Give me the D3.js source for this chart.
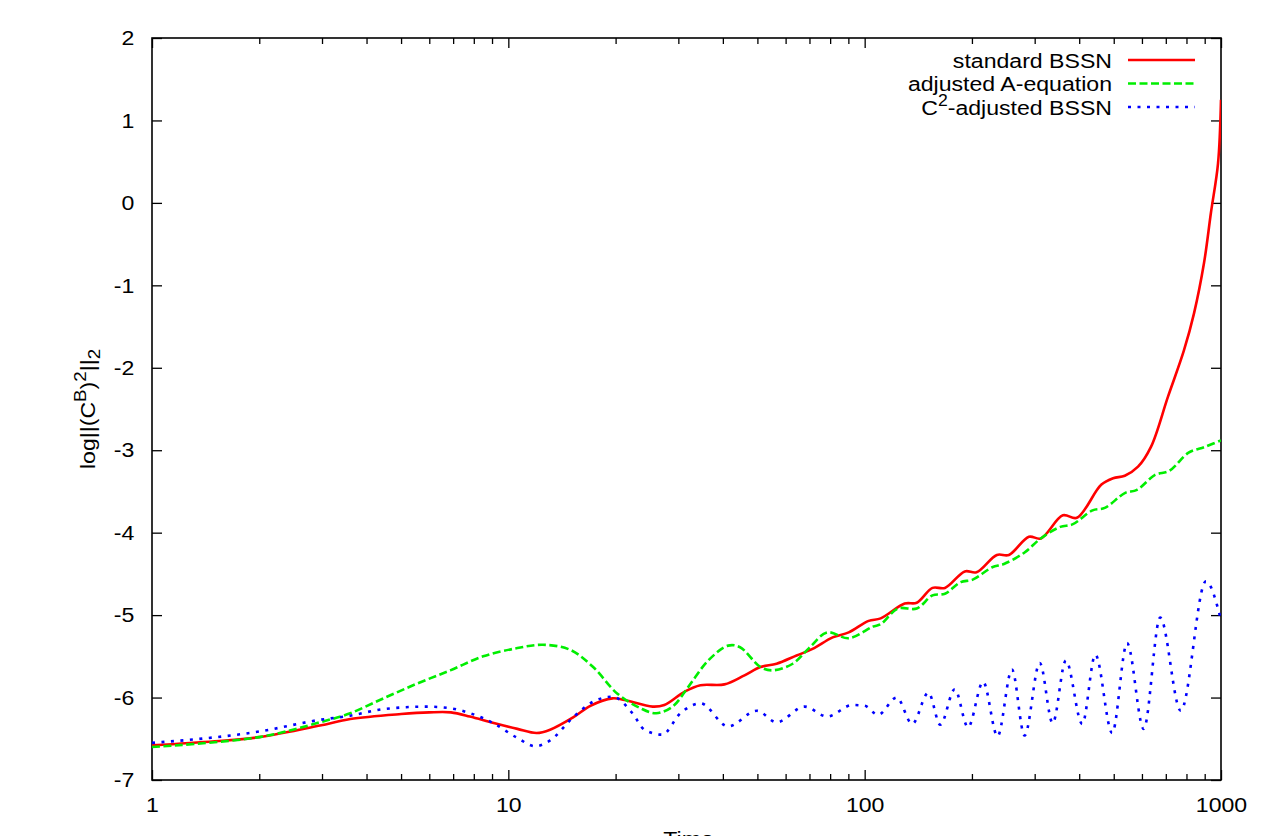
<!DOCTYPE html>
<html>
<head>
<meta charset="utf-8">
<script src="https://cdn.jsdelivr.net/npm/d3@7"></script>
<style>
  body { margin: 0; background: #fff; }
  text { font-family: "Liberation Sans", Arial, sans-serif; font-size: 21px; fill: #000; }
</style>
</head>
<body>
<svg id="chart" width="1282" height="836"></svg>
<script>
// values (time, log norm)
const redTime = [1, 1.5, 2.0, 2.96, 3.6, 5.0, 6.0, 6.9, 7.8, 9.1, 10.6, 12.0, 13.1, 15.2, 17.0, 19.6, 21.2, 25.4, 27.4, 31.2, 34.6, 40.4, 46.0, 51.0, 56.6, 64.4, 71.4, 81.3, 90.2, 102.6, 110.9, 129.5, 140, 155, 168, 191, 206, 235, 254, 289, 312, 360, 394, 461, 498, 537, 585, 636, 710, 787, 840, 896, 937, 981, 1000];
const redValue = [-6.58, -6.53, -6.48, -6.34, -6.26, -6.20, -6.18, -6.18, -6.23, -6.31, -6.38, -6.43, -6.39, -6.24, -6.10, -6.01, -6.03, -6.11, -6.09, -5.93, -5.85, -5.84, -5.73, -5.63, -5.59, -5.49, -5.41, -5.27, -5.21, -5.07, -5.04, -4.86, -4.85, -4.67, -4.67, -4.47, -4.48, -4.27, -4.27, -4.05, -4.07, -3.79, -3.82, -3.42, -3.34, -3.31, -3.20, -2.96, -2.35, -1.79, -1.34, -0.73, -0.12, 0.48, 1.25];

const greenTime = [1, 2.0, 2.96, 3.6, 4.46, 5.55, 6.87, 8.5, 10.6, 12.5, 14.9, 17.3, 20.2, 23.5, 26.0, 28.9, 32.0, 36.4, 41.4, 44.7, 51.0, 55.1, 62.8, 69.8, 78.5, 90.2, 105.4, 110.9, 124, 140, 155, 168, 186, 201, 228, 246, 281, 312, 354, 383, 436, 472, 537, 581, 653, 716, 811, 901, 1000];
const greenValue = [-6.60, -6.48, -6.30, -6.19, -6.01, -5.83, -5.67, -5.50, -5.40, -5.36, -5.42, -5.63, -5.95, -6.13, -6.19, -6.11, -5.87, -5.55, -5.37, -5.39, -5.63, -5.67, -5.59, -5.40, -5.21, -5.28, -5.14, -5.11, -4.92, -4.92, -4.76, -4.74, -4.60, -4.57, -4.42, -4.38, -4.24, -4.07, -3.93, -3.90, -3.73, -3.70, -3.52, -3.48, -3.30, -3.25, -3.03, -2.96, -2.88];

const blueTime = [1, 2.01, 2.96, 3.6, 4.46, 5.92, 6.87, 7.82, 9.07, 10.6, 11.9, 13.1, 15.2, 17.3, 19.6, 22.3, 24.1, 27.0, 30.4, 34.6, 41.4, 49.8, 56.6, 67.8, 78.5, 92.4, 100, 109, 123, 136, 151, 163, 179, 195, 215, 236, 259, 281, 310, 337, 367, 408, 444, 495, 545, 607, 675, 771, 907, 1000];
const blueValue = [-6.55, -6.41, -6.27, -6.22, -6.14, -6.11, -6.13, -6.19, -6.31, -6.49, -6.59, -6.52, -6.24, -6.05, -5.99, -6.19, -6.39, -6.45, -6.19, -6.07, -6.35, -6.16, -6.30, -6.11, -6.23, -6.09, -6.10, -6.21, -6.00, -6.32, -5.94, -6.33, -5.90, -6.36, -5.81, -6.47, -5.66, -6.46, -5.58, -6.31, -5.55, -6.32, -5.48, -6.43, -5.34, -6.38, -5.03, -6.16, -4.59, -5.06];

const xMajorTicks = [1, 10, 100, 1000];
const yTicks = [-7, -6, -5, -4, -3, -2, -1, 0, 1, 2];

const svg = d3.select("#chart");
const plotLeft = 152, plotRight = 1221, plotTop = 38, plotBottom = 780;
const stretch = "scale(1.1,1)"; // reference glyphs are a bit wide

const x = d3.scaleLog().domain([1, 1000]).range([plotLeft, plotRight]);
const y = d3.scaleLinear().domain([-7, 2]).range([plotBottom, plotTop]);

// minor ticks 2..9 in every decade
const xMinorTicks = [];
[1, 10, 100].forEach((d) => {
  for (let k = 2; k <= 9; k++) xMinorTicks.push(d * k);
});

svg.append("defs").append("clipPath").attr("id", "plotClip")
  .append("rect")
  .attr("x", plotLeft).attr("y", plotTop)
  .attr("width", plotRight - plotLeft).attr("height", plotBottom - plotTop);

// bottom axis with labels
const xAxis = svg.append("g")
  .attr("transform", `translate(0, ${plotBottom})`)
  .call(d3.axisBottom(x).tickValues(xMajorTicks).tickSize(-10).tickPadding(17).tickFormat((d) => String(d)));
xAxis.selectAll("text").attr("transform", stretch);

svg.append("g")
  .attr("transform", `translate(0, ${plotBottom})`)
  .call(d3.axisBottom(x).tickValues(xMinorTicks).tickSize(-6).tickFormat(""));

// top mirrored ticks
svg.append("g")
  .attr("transform", `translate(0, ${plotTop})`)
  .call(d3.axisTop(x).tickValues(xMajorTicks).tickSize(-10).tickFormat(""));
svg.append("g")
  .attr("transform", `translate(0, ${plotTop})`)
  .call(d3.axisTop(x).tickValues(xMinorTicks).tickSize(-6).tickFormat(""));

// left axis with labels (plain hyphen minus like the original)
const yAxis = svg.append("g")
  .attr("transform", `translate(${plotLeft}, 0)`)
  .call(d3.axisLeft(y).tickValues(yTicks).tickSize(-10).tickPadding(16).tickFormat((d) => String(d)));
yAxis.selectAll("text").attr("transform", stretch);

// right mirrored ticks
svg.append("g")
  .attr("transform", `translate(${plotRight}, 0)`)
  .call(d3.axisRight(y).tickValues(yTicks).tickSize(-10).tickFormat(""));

svg.selectAll(".domain").remove();
svg.selectAll(".tick line").attr("stroke", "#000").attr("stroke-width", 1.3);
svg.selectAll(".tick text").style("font-family", "\"Liberation Sans\", Arial, sans-serif").style("font-size", "21px").attr("fill", "#000");

// frame
svg.append("rect")
  .attr("x", plotLeft).attr("y", plotTop)
  .attr("width", plotRight - plotLeft).attr("height", plotBottom - plotTop)
  .attr("fill", "none").attr("stroke", "#000").attr("stroke-width", 1.6);

// series
const series = [
  { name: "standard BSSN", time: redTime, value: redValue, color: "#ff0000", dash: null, curve: d3.curveCatmullRom.alpha(0.5) },
  { name: "adjusted A-equation", time: greenTime, value: greenValue, color: "#00ee00", dash: "8,3.5", curve: d3.curveCatmullRom.alpha(0.5) },
  { name: "C2", time: blueTime, value: blueValue, color: "#0000ff", dash: "3,6.5", curve: d3.curveMonotoneX }
];

const plot = svg.append("g").attr("clip-path", "url(#plotClip)");
series.forEach((s) => {
  const line = d3.line()
    .x((d) => x(d[0]))
    .y((d) => y(d[1]))
    .curve(s.curve);
  plot.append("path")
    .datum(s.time.map((t, i) => [t, s.value[i]]))
    .attr("fill", "none")
    .attr("stroke", s.color)
    .attr("stroke-width", 2.6)
    .attr("stroke-dasharray", s.dash)
    .attr("d", line);
});

// legend
const legendRows = [60, 83.5, 107];
series.forEach((s, i) => {
  const row = svg.append("g").attr("transform", `translate(1112, ${legendRows[i] + 7.5})`);
  const label = row.append("text")
    .attr("text-anchor", "end")
    .attr("transform", stretch);
  if (i === 2) {
    label.append("tspan").text("C");
    label.append("tspan").attr("dy", -9).attr("font-size", 16).text("2");
    label.append("tspan").attr("dy", 9).text("-adjusted BSSN");
  } else {
    label.text(s.name);
  }
  svg.append("line")
    .attr("x1", 1128).attr("x2", 1195)
    .attr("y1", legendRows[i]).attr("y2", legendRows[i])
    .attr("stroke", s.color)
    .attr("stroke-width", 2.6)
    .attr("stroke-dasharray", s.dash);
});

// y axis title
const yTitle = svg.append("g")
  .attr("transform", "translate(95, 409) rotate(-90)")
  .append("text")
  .attr("text-anchor", "middle")
  .attr("transform", stretch);
yTitle.append("tspan").text("log||(C");
yTitle.append("tspan").attr("dy", -9).attr("font-size", 17).text("B");
yTitle.append("tspan").attr("dy", 9).text(")");
yTitle.append("tspan").attr("dy", -9).attr("font-size", 17).text("2");
yTitle.append("tspan").attr("dy", 9).text("||");
yTitle.append("tspan").attr("dy", 5).attr("font-size", 17).text("2");

// x axis title (partly below the window edge)
svg.append("g")
  .attr("transform", `translate(${(plotLeft + plotRight) / 2 + 2}, 846)`)
  .append("text")
  .attr("text-anchor", "middle")
  .attr("transform", stretch)
  .text("Time");
</script>
</body>
</html>
